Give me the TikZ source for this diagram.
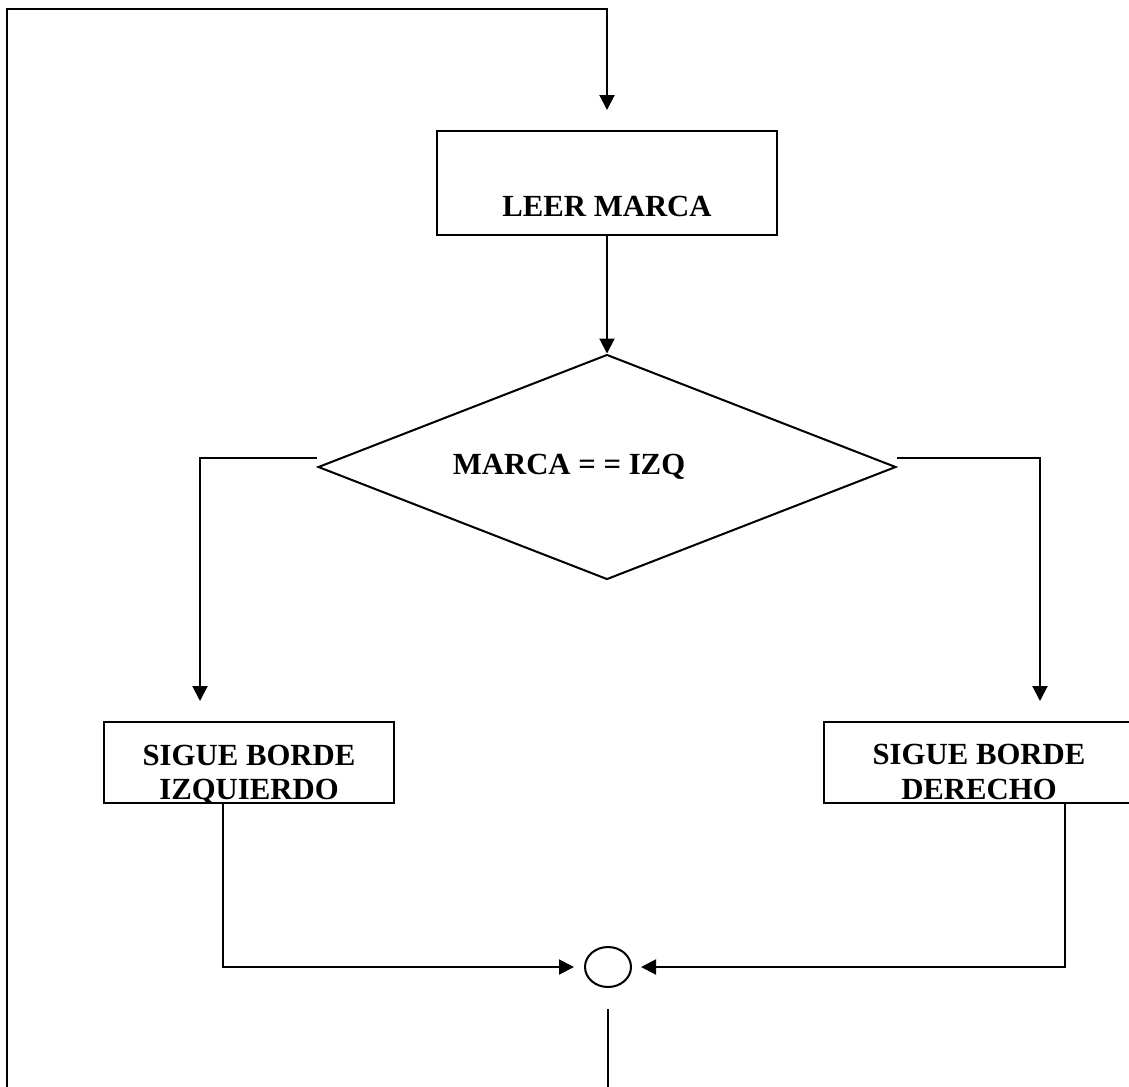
\documentclass[tikz,border=0pt]{standalone}
\usepackage{fontspec}
\setmainfont{Liberation Serif}
\usetikzlibrary{arrows.meta}
\usetikzlibrary{shapes.geometric}

\tikzset{
    every node/.style={font=\bfseries\fontsize{17.5}{19.5}\selectfont},
    proc/.style={draw, rectangle, inner sep=0pt},
    decision/.style={draw, diamond, inner sep=0pt},
    joint/.style={draw, ellipse, inner sep=0pt, minimum width=0.92cm, minimum height=0.8cm}
}

\begin{document}
\begin{tikzpicture}[x=0.02cm, y=-0.02cm, line width=1.15pt, >={Triangle[length=0.3cm,width=0.3cm]}]
                \useasboundingbox (0,0) rectangle (1129,1086);
                \node[proc, minimum width=6.8cm, minimum height=2.08cm, label={[yshift=-0.46cm]center:LEER MARCA}] (leer) at (607,183) {};
                \node[decision, minimum width=11.56cm, minimum height=4.5cm, label={[xshift=-0.76cm]center:MARCA = = IZQ}] (marca) at (607,467) {};
                \node[proc, minimum width=5.8cm, minimum height=1.62cm, label={[yshift=-0.24cm, align=center]center:SIGUE BORDE\\IZQUIERDO}] (izq) at (249,762.5) {};
                \node[proc, minimum width=6.2cm, minimum height=1.62cm, label={[yshift=-0.19cm, align=center]center:SIGUE BORDE\\DERECHO}] (der) at (979,762.5) {};
                \node[joint] (junta) at (608,967) {};
                \coordinate (lb) at (7,1090);
                \coordinate (lt) at (7,9);
                \coordinate (jb) at (608,1090);
                \draw[->, shorten >=0.4cm] (lb) -- (lt) -| (leer.north);
                \draw[->] (leer) -- (marca);
                \draw[->, shorten >=0.4cm] ([yshift=0.18cm]marca.west) -| ([xshift=-0.98cm]izq.north);
                \draw[->, shorten >=0.4cm] ([yshift=0.18cm]marca.east) -| ([xshift=1.22cm]der.north);
                \draw[->, shorten >=0.2cm] ([xshift=-0.52cm]izq.south) |- (junta.west);
                \draw[->, shorten >=0.18cm] ([xshift=1.72cm]der.south) |- (junta.east);
                \draw ([yshift=-0.42cm]junta.south) -- (jb);
            \end{tikzpicture}
\end{document}
